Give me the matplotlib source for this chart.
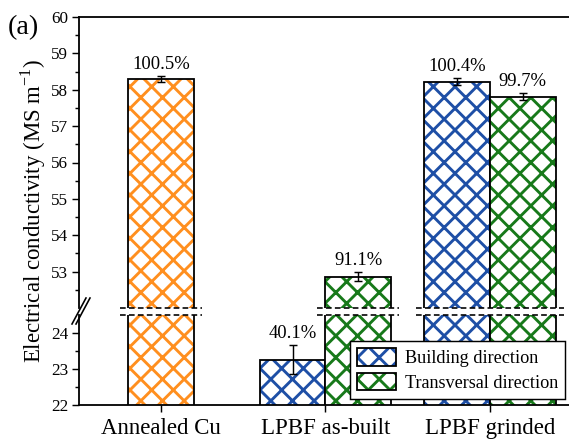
import numpy as np
import matplotlib
matplotlib.use('Agg')
import matplotlib.pyplot as plt
from matplotlib.patches import Patch
from matplotlib.lines import Line2D

plt.rcParams['font.family'] = ['Liberation Serif', 'DejaVu Serif']
plt.rcParams['mathtext.fontset'] = 'custom'
plt.rcParams['mathtext.rm'] = 'Liberation Serif'
plt.rcParams['hatch.linewidth'] = 1.6

# data
categories = ['Annealed Cu', 'LPBF as-built', 'LPBF grinded']
legend_labels = ['Building direction', 'Transversal direction']

cu_val = [58.30]
cu_err = [0.08]
cu_pct = ['100.5%']

build_val = [23.25, 58.22]   # as-built, grinded
build_err = [0.40, 0.10]
build_pct = ['40.1%', '100.4%']

trans_val = [52.86, 57.81]
trans_err = [0.12, 0.10]
trans_pct = ['91.1%', '99.7%']

orange = '#FF8F1F'
blue = '#1E4FA6'
green = '#17791A'

W, H, DPI = 569, 442, 130
fig = plt.figure(figsize=(W / DPI, H / DPI), dpi=DPI)

def px(x0, y0, x1, y1):
    # pixel box -> figure fraction rect
    return [x0 / W, 1 - y1 / H, (x1 - x0) / W, (y1 - y0) / H]

ax_top = fig.add_axes(px(79, 17, 572, 308))
ax_bot = fig.add_axes(px(79, 315, 572, 405))
brk_lo, brk_hi = 24.49, 52

ax_top.set_ylim(brk_hi, 60)
ax_bot.set_ylim(22, brk_lo)
for ax in (ax_top, ax_bot):
    ax.set_xlim(-0.5, 2.5)
    for s in ax.spines.values():
        s.set_linewidth(1.0)
    ax.tick_params(axis='y', which='major', length=4, width=0.8, labelsize=9.5, direction='out', pad=2)
    ax.tick_params(axis='y', which='minor', length=2.2, width=0.8, direction='out')
ax_top.spines['bottom'].set_visible(False)
ax_bot.spines['top'].set_visible(False)
ax_top.tick_params(axis='x', bottom=False, labelbottom=False)

ax_top.set_yticks(np.arange(53, 61))
ax_top.set_yticks(np.arange(52.5, 60, 1), minor=True)
ax_bot.set_yticks([22, 23, 24])
ax_bot.set_yticks([22.5, 23.5], minor=True)

ax_bot.set_xticks(range(len(categories)))
ax_bot.set_xticklabels(categories, fontsize=12.7)
ax_bot.tick_params(axis='x', length=4, width=0.8, pad=3)

bw = 0.4
bars = []  # (x, value, err, pct, color)
bars.append((0, cu_val[0], cu_err[0], cu_pct[0], orange))
for i in range(2):
    bars.append((i + 1 - bw / 2, build_val[i], build_err[i], build_pct[i], blue))
    bars.append((i + 1 + bw / 2, trans_val[i], trans_err[i], trans_pct[i], green))

for x, v, e, p, c in bars:
    for ax in (ax_top, ax_bot):
        ax.bar(x, v, bw, color='white', edgecolor=c, hatch='xx', lw=0)
        ax.bar(x, v, bw, fill=False, edgecolor='black', lw=1.0)
        ax.errorbar(x, v, yerr=e, fmt='none', ecolor='black', elinewidth=0.8,
                    capsize=2, capthick=0.8)
    target = ax_top if v > brk_hi else ax_bot
    target.annotate(p, (x, v + e), xytext=(0, 4), textcoords='offset points',
                    ha='center', va='baseline', fontsize=10.3)

# dashed break lines over bars that cross the break
for ci in range(len(categories)):
    xs = [x for x, v, e, p, c in bars if round(x) == ci and v > brk_hi]
    if not xs:
        continue
    x0, x1 = min(xs) - bw / 2 - 0.05, max(xs) + bw / 2 + 0.05
    ax_top.plot([x0, x1], [brk_hi, brk_hi], color='black', lw=0.9, dashes=(3.5, 2), clip_on=False)
    ax_bot.plot([x0, x1], [brk_lo, brk_lo], color='black', lw=0.9, dashes=(3.5, 2), clip_on=False)

# break marks on the left axis
for dx in (0, 4):
    fig.add_artist(Line2D([(72 + dx) / W, (86 + dx) / W], [1 - 324 / H, 1 - 298 / H],
                          color='black', lw=0.9))

fig.text(33 / W, 1 - 211 / H, r'Electrical conductivity (MS m$^{\mathregular{-1}}$)',
         rotation=90, ha='center', va='center', fontsize=12.7)
fig.text(8 / W, 1 - 28 / H, '(a)', ha='left', va='center', fontsize=15.5)

handles = []
for c in (blue, green):
    handles.append((Patch(facecolor='white', edgecolor=c, hatch='xx', lw=0),
                    Patch(fill=False, edgecolor='black', lw=1.0)))
leg = ax_bot.legend(handles, legend_labels, loc='upper left',
                    bbox_to_anchor=(350 / W, 1 - 341 / H), bbox_transform=fig.transFigure,
                    borderaxespad=0, fontsize=10.1, handlelength=2.1, handleheight=1.1,
                    handletextpad=0.5, labelspacing=0.3, borderpad=0.4,
                    fancybox=False, edgecolor='black', framealpha=1)
leg.get_frame().set_linewidth(0.8)

fig.savefig('out.png', dpi=DPI)
